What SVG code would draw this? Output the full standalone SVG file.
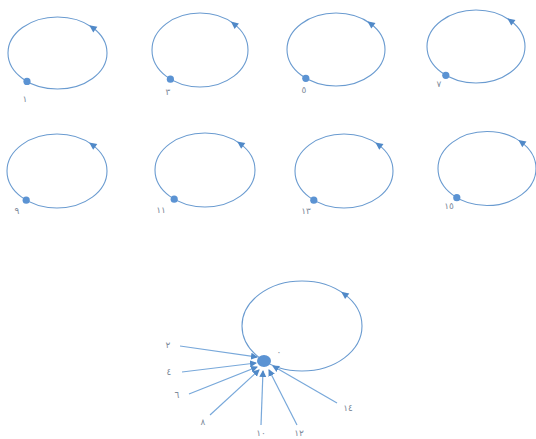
<svg xmlns="http://www.w3.org/2000/svg" xmlns:xlink="http://www.w3.org/1999/xlink" width="536" height="439" viewBox="0 0 536 439">
<style>
.loop{fill:none;stroke:#6a9bd0;stroke-width:1.1}
.dot{fill:#5b93d3}
.ah{fill:#5089c8}
.lbl{font-family:"DejaVu Sans","Noto Sans",sans-serif;font-size:9px;fill:#7d8a9a;text-anchor:middle;letter-spacing:1.5px}
.con{stroke:#78a8da;stroke-width:1.2;fill:none;marker-end:url(#m)}
</style>
<defs>
<path id="ah" d="M4,0 L-3.5,-3.5 L-3.5,3.5 Z"/>
<marker id="m" markerWidth="8" markerHeight="8" refX="6" refY="4" orient="auto" markerUnits="userSpaceOnUse">
<path d="M0,0.5 L7,4 L0,7.5 Z" fill="#5089c8"/>
</marker>
</defs>
<rect width="536" height="439" fill="#ffffff"/>
<g id="n1"><ellipse class="loop" cx="57.5" cy="53" rx="49.5" ry="36"/><use xlink:href="#ah" class="ah" transform="translate(92.5,27.5) rotate(216)"/><circle class="dot" cx="27" cy="81.4" r="3.6"/><text class="lbl" x="25" y="102">١</text></g>
<g id="n3"><ellipse class="loop" cx="200" cy="50" rx="48" ry="37"/><use xlink:href="#ah" class="ah" transform="translate(234,24) rotate(218)"/><circle class="dot" cx="170.4" cy="79.2" r="3.6"/><text class="lbl" x="168" y="95">٣</text></g>
<g id="n5"><ellipse class="loop" cx="336" cy="49.5" rx="49" ry="36.5"/><use xlink:href="#ah" class="ah" transform="translate(370.6,23.7) rotate(217)"/><circle class="dot" cx="305.8" cy="78.3" r="3.6"/><text class="lbl" x="304" y="93">٥</text></g>
<g id="n7"><ellipse class="loop" cx="476" cy="46.5" rx="49" ry="36.5"/><use xlink:href="#ah" class="ah" transform="translate(510.6,20.7) rotate(217)"/><circle class="dot" cx="445.8" cy="75.3" r="3.6"/><text class="lbl" x="439" y="87">٧</text></g>
<g id="n9"><ellipse class="loop" cx="57" cy="171" rx="50" ry="37"/><use xlink:href="#ah" class="ah" transform="translate(92.4,144.8) rotate(216)"/><circle class="dot" cx="26.2" cy="200.2" r="3.6"/><text class="lbl" x="17" y="214">٩</text></g>
<g id="n11"><ellipse class="loop" cx="205" cy="170" rx="50" ry="37"/><use xlink:href="#ah" class="ah" transform="translate(240.4,143.8) rotate(216)"/><circle class="dot" cx="174.2" cy="199.2" r="3.6"/><text class="lbl" x="161" y="213">١١</text></g>
<g id="n13"><ellipse class="loop" cx="344" cy="171" rx="49" ry="37"/><use xlink:href="#ah" class="ah" transform="translate(378.6,144.8) rotate(217)"/><circle class="dot" cx="313.8" cy="200.2" r="3.6"/><text class="lbl" x="306" y="214">١٣</text></g>
<g id="n15"><ellipse class="loop" cx="487" cy="168.5" rx="49" ry="37"/><use xlink:href="#ah" class="ah" transform="translate(521.6,142.3) rotate(217)"/><circle class="dot" cx="456.8" cy="197.7" r="3.6"/><text class="lbl" x="449" y="209">١٥</text></g>
<g id="n0"><ellipse class="loop" cx="302" cy="326" rx="60" ry="45"/><use xlink:href="#ah" class="ah" transform="translate(344.4,294.2) rotate(217)"/><ellipse class="dot" cx="264" cy="361" rx="7" ry="6"/><text class="lbl" x="279" y="355">٠</text></g>
<g id="labels">
<text class="lbl" x="168" y="348">٢</text>
<text class="lbl" x="169" y="375">٤</text>
<text class="lbl" x="177" y="398">٦</text>
<text class="lbl" x="203" y="425">٨</text>
<text class="lbl" x="261" y="436">١٠</text>
<text class="lbl" x="299" y="436">١٢</text>
<text class="lbl" x="348" y="411">١٤</text>
</g>
<g id="connectors">
<line class="con" x1="180" y1="346" x2="257" y2="357"/>
<line class="con" x1="182" y1="372" x2="256" y2="363"/>
<line class="con" x1="189" y1="394" x2="257" y2="367"/>
<line class="con" x1="210" y1="415" x2="259" y2="370"/>
<line class="con" x1="261" y1="425" x2="263" y2="371"/>
<line class="con" x1="297" y1="425" x2="269" y2="370"/>
<line class="con" x1="337" y1="403" x2="273" y2="366"/>
</g>
</svg>
